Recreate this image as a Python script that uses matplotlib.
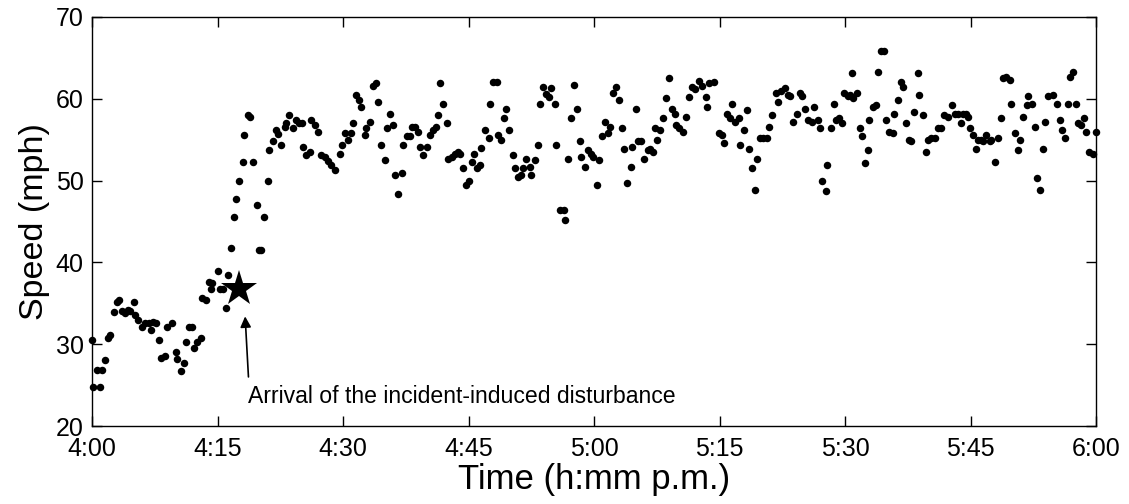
import matplotlib
matplotlib.use("Agg")
import matplotlib.pyplot as plt

# minutes after 4:00 p.m.
time_min = [
    0.0, 0.16, 0.6, 1.0, 1.2, 1.6, 1.95, 2.2, 2.6, 3.0, 3.2, 3.6, 4.0, 4.3, 4.6, 5.0, 5.1, 5.5, 6.0, 6.3,
    6.8, 7.0, 7.3, 7.6, 8.0, 8.3, 8.7, 9.0, 9.6, 10.0, 10.2, 10.6, 11.0, 11.2, 11.6, 12.0, 12.2, 12.6, 13.0, 13.2,
    13.6, 14.0, 14.2, 14.4, 15.0, 15.3, 15.7, 16.0, 16.2, 16.6, 17.0, 17.2, 17.6, 18.0, 18.2, 18.6, 18.9, 19.2, 19.7, 20.0,
    20.2, 20.6, 21.0, 21.2, 21.6, 22.0, 22.2, 22.6, 23.1, 23.2, 23.6, 24.0, 24.4, 24.8, 25.1, 25.2, 25.6, 26.0, 26.2, 26.6,
    27.0, 27.4, 27.8, 28.2, 28.6, 29.0, 29.6, 29.9, 30.2, 30.6, 31.0, 31.2, 31.5, 31.9, 32.2, 32.6, 32.8, 33.2, 33.6, 34.0,
    34.2, 34.6, 35.0, 35.2, 35.6, 36.0, 36.2, 36.6, 37.0, 37.2, 37.6, 38.0, 38.2, 38.6, 39.0, 39.2, 39.6, 40.0, 40.4, 40.7,
    41.1, 41.4, 41.6, 42.0, 42.4, 42.6, 43.0, 43.4, 43.8, 44.0, 44.4, 44.7, 45.0, 45.4, 45.6, 46.0, 46.4, 46.5, 47.0, 47.4,
    47.6, 47.9, 48.4, 48.5, 48.9, 49.3, 49.5, 49.9, 50.3, 50.5, 50.9, 51.3, 51.5, 51.9, 52.3, 52.5, 52.9, 53.3, 53.5, 53.9,
    54.3, 54.6, 54.9, 55.3, 55.5, 55.9, 56.4, 56.5, 56.9, 57.3, 57.6, 58.0, 58.3, 58.5, 58.9, 59.3, 59.7, 59.9, 60.3, 60.6,
    60.9, 61.3, 61.7, 61.9, 62.3, 62.6, 63.0, 63.4, 63.6, 64.0, 64.4, 64.6, 65.0, 65.3, 65.6, 66.0, 66.4, 66.7, 67.0, 67.3,
    67.5, 67.9, 68.3, 68.6, 69.0, 69.3, 69.7, 69.8, 70.2, 70.6, 71.0, 71.4, 71.7, 72.1, 72.5, 72.9, 73.4, 73.5, 73.8, 74.4,
    74.9, 75.3, 75.5, 75.9, 76.2, 76.5, 76.8, 77.3, 77.5, 77.9, 78.3, 78.5, 78.9, 79.3, 79.5, 79.8, 80.2, 80.7, 80.9, 81.3,
    81.7, 82.0, 82.4, 82.8, 83.2, 83.4, 83.8, 84.3, 84.6, 84.9, 85.2, 85.6, 86.0, 86.3, 86.8, 87.0, 87.3, 87.7, 87.9, 88.3,
    88.7, 88.9, 89.3, 89.7, 89.9, 90.4, 90.6, 90.8, 91.0, 91.4, 91.8, 92.0, 92.4, 92.7, 92.9, 93.3, 93.7, 93.9, 94.3, 94.7,
    94.9, 95.3, 95.7, 95.9, 96.3, 96.7, 96.9, 97.3, 97.7, 97.9, 98.3, 98.7, 98.9, 99.3, 99.7, 99.9, 100.3, 100.7, 101.1, 101.5,
    101.8, 102.3, 102.8, 103.1, 103.5, 103.9, 104.1, 104.5, 104.7, 104.9, 105.3, 105.7, 105.9, 106.3, 106.5, 106.9, 107.3, 107.5, 107.9, 108.3,
    108.7, 108.9, 109.3, 109.7, 109.9, 110.3, 110.7, 110.9, 111.3, 111.7, 111.9, 112.3, 112.7, 112.9, 113.3, 113.7, 113.9, 114.3, 114.9, 115.3,
    115.7, 115.9, 116.3, 116.7, 116.9, 117.3, 117.6, 117.8, 118.2, 118.6, 118.8, 119.2, 119.6, 120.0,
]
speed_mph = [
    30.5, 24.8, 26.8, 24.8, 26.8, 28.1, 30.7, 31.1, 33.9, 35.1, 35.4, 34.1, 33.8, 34.2, 34.1, 35.1, 33.6, 33.0, 32.1, 32.6,
    32.6, 31.7, 32.7, 32.6, 30.5, 28.3, 28.5, 32.1, 32.6, 29.0, 28.2, 26.7, 27.7, 30.3, 32.1, 32.1, 29.5, 30.3, 30.8, 35.7,
    35.4, 37.6, 36.8, 37.5, 38.9, 36.8, 36.8, 34.4, 38.4, 41.7, 45.6, 47.8, 49.9, 52.3, 55.6, 58.0, 57.8, 52.3, 47.0, 41.5,
    41.5, 45.6, 49.9, 53.7, 54.8, 56.2, 55.7, 54.4, 56.6, 57.0, 58.0, 56.4, 57.4, 57.0, 57.0, 54.1, 53.1, 53.5, 57.4, 56.8,
    56.0, 53.1, 52.9, 52.4, 51.9, 51.3, 53.3, 54.4, 55.8, 55.0, 55.8, 57.0, 60.5, 59.9, 59.0, 55.6, 56.4, 57.2, 61.6, 61.9,
    59.6, 54.4, 52.5, 56.4, 58.2, 56.8, 50.7, 48.4, 50.9, 54.4, 55.4, 55.4, 56.6, 56.6, 56.0, 54.1, 53.1, 54.1, 55.6, 56.2,
    56.6, 58.0, 61.9, 59.4, 57.0, 52.7, 52.9, 53.3, 53.5, 53.3, 51.5, 49.5, 49.9, 52.3, 53.3, 51.5, 51.9, 54.0, 56.2, 55.2,
    59.4, 62.1, 62.1, 55.6, 55.0, 57.6, 58.8, 56.2, 53.1, 51.5, 50.5, 50.7, 51.5, 52.7, 51.7, 50.7, 52.5, 54.4, 59.4, 61.4,
    60.6, 60.2, 61.3, 59.4, 54.4, 46.4, 46.4, 45.2, 52.7, 57.6, 61.7, 58.8, 54.8, 52.9, 51.7, 53.7, 53.3, 52.9, 49.5, 52.5,
    55.4, 57.2, 55.8, 56.6, 60.7, 61.5, 59.9, 56.4, 53.9, 49.7, 51.7, 54.1, 58.8, 54.9, 54.8, 52.7, 53.7, 53.9, 53.5, 56.4,
    55.0, 56.2, 57.6, 60.1, 62.5, 58.8, 58.2, 56.8, 56.4, 56.0, 57.8, 60.2, 61.4, 61.2, 62.2, 61.6, 60.2, 59.0, 61.9, 62.1,
    55.8, 55.6, 54.6, 58.2, 57.6, 59.4, 57.2, 57.6, 54.4, 56.2, 58.6, 53.9, 51.5, 48.9, 52.7, 55.2, 55.2, 55.2, 56.6, 58.0,
    60.7, 59.6, 60.9, 61.3, 60.5, 60.3, 57.2, 58.2, 60.7, 60.3, 58.8, 57.4, 57.2, 59.0, 57.4, 56.4, 49.9, 48.7, 51.9, 56.4,
    59.4, 57.4, 57.6, 57.0, 60.7, 60.3, 60.5, 63.1, 60.1, 60.7, 56.4, 55.4, 52.1, 53.7, 57.4, 59.0, 59.2, 63.3, 65.9, 65.9,
    57.4, 56.0, 55.8, 58.2, 59.8, 62.1, 61.4, 57.0, 55.0, 54.8, 58.4, 63.1, 60.5, 58.0, 53.5, 55.0, 55.2, 55.2, 56.4, 56.4,
    58.0, 57.8, 59.2, 58.2, 58.2, 57.0, 58.2, 58.2, 57.8, 56.4, 55.6, 53.9, 55.0, 55.0, 54.8, 55.6, 54.8, 55.0, 52.3, 55.2,
    57.6, 62.5, 62.7, 62.3, 59.4, 55.8, 53.7, 55.0, 57.8, 59.2, 60.3, 59.4, 56.6, 50.3, 48.9, 53.9, 57.2, 60.3, 60.5, 59.4,
    57.4, 56.2, 55.2, 59.4, 62.7, 63.3, 59.4, 57.0, 56.8, 57.6, 56.0, 53.5, 53.3, 56.0,
]

star_time, star_speed = 17.6, 36.7
arrow_tip = (18.3, 33.4)
arrow_tail = (18.7, 26.0)
note_text = "Arrival of the incident-induced disturbance"
note_pos = (18.6, 23.6)

tick_minutes = [0, 15, 30, 45, 60, 75, 90, 105, 120]
tick_labels = ["4:00", "4:15", "4:30", "4:45", "5:00", "5:15", "5:30", "5:45", "6:00"]
y_ticks = [20, 30, 40, 50, 60, 70]

plt.rcParams['font.family'] = ['Liberation Sans', 'DejaVu Sans']

fig = plt.figure(figsize=(11.29, 5.04), dpi=100)
ax = fig.add_axes([92 / 1129, 1 - 426 / 504, (1096 - 92) / 1129, (426 - 17) / 504])

ax.plot(time_min, speed_mph, 'o', color='black', markersize=5.4, markeredgewidth=0, clip_on=False)
ax.plot([star_time], [star_speed], '*', color='black', markersize=27, markeredgewidth=0)
ax.annotate('', xy=arrow_tip, xytext=arrow_tail,
            arrowprops=dict(arrowstyle='-|>', color='black', lw=1.2, mutation_scale=16,
                            shrinkA=0, shrinkB=0))
ax.text(note_pos[0], note_pos[1], note_text, fontsize=16.6, ha='left', va='center')

ax.set_xlim(0, 120)
ax.set_ylim(20, 70)
ax.set_xticks(tick_minutes)
ax.set_xticklabels(tick_labels)
ax.set_yticks(y_ticks)
ax.tick_params(direction='in', length=7, width=1, labelsize=18, top=True, right=True)
ax.tick_params(axis='x', pad=8)
ax.tick_params(axis='y', pad=6)
for s in ax.spines.values():
    s.set_linewidth(1.0)
ax.set_xlabel("Time (h:mm p.m.)", fontsize=25, labelpad=1)
ax.set_ylabel("Speed (mph)", fontsize=24.5, labelpad=4)

fig.savefig("out.png", dpi=100)
